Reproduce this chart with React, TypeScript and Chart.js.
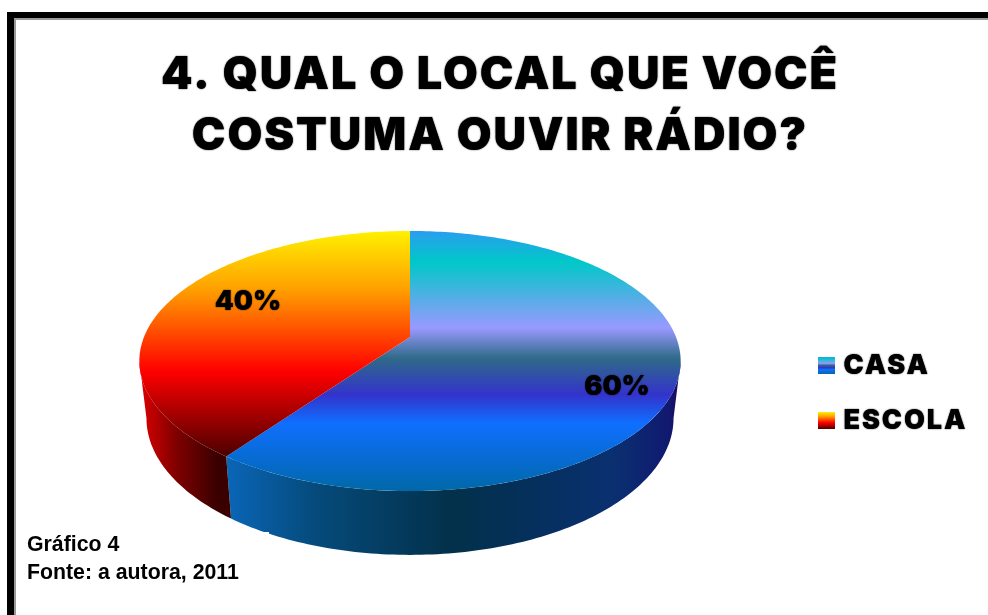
import React, { useEffect, useRef } from "react";
import { Chart, registerables } from "chart.js";

Chart.register(...registerables);

const categories = ["CASA", "ESCOLA"];
const shares = [60, 40];
const titleLines = ["4. QUAL O LOCAL QUE VOCÊ", "COSTUMA OUVIR RÁDIO?"];
const captionLines = ["Gráfico 4", "Fonte: a autora, 2011"];

const CANVAS_LEFT = 12;
const TITLE_FONT = "Inter, 'DejaVu Sans', sans-serif";

// Perspective mapping of the pie's disc on to the page (canvas pixels).
const TOP_FACE = { x: 410 - CANVAS_LEFT, y: 337, a: 125.6, w: 266 };
const BOTTOM_FACE = { x: 410 - CANVAS_LEFT, y: 393, a: 132, w: 259 };
const TILT = -0.1846;
const SILHOUETTE_ANGLE = 0.185; // where the rim is widest on the page

type Face = { x: number; y: number; a: number; w: number };

function project(face: Face, clockAngle: number, r = 1) {
  // clockAngle: Chart.js arc angle (-PI/2 is twelve o'clock)
  const c = Math.cos(clockAngle) * r;
  const s = Math.sin(clockAngle) * r;
  const d = 1 + TILT * s;
  return { x: face.x + (face.w * c) / d, y: face.y + (face.a * s) / d };
}

function stopsGradient(ctx: CanvasRenderingContext2D, x0: number, y0: number, x1: number, y1: number, stops: [number, string][]) {
  const g = ctx.createLinearGradient(x0, y0, x1, y1);
  stops.forEach(([o, c]) => g.addColorStop(o, c));
  return g;
}

const OCEAN: [number, string][] = [
  [0, "#2a9df0"],
  [0.12, "#00c8c8"],
  [0.373, "#9999ff"],
  [0.49, "#2f6a88"],
  [0.63, "#3333cc"],
  [0.74, "#0f6fff"],
  [1, "#0068a8"],
];
const FIRE: [number, string][] = [
  [0, "#fff000"],
  [0.26, "#ff9f00"],
  [0.62, "#ff0000"],
  [1, "#4a0000"],
];
const OCEAN_WALL: [number, string][] = [
  [0, "#0a66b8"],
  [0.2, "#054a7a"],
  [0.5, "#03304a"],
  [0.65, "#04305a"],
  [0.85, "#0a3070"],
  [0.97, "#101a70"],
  [1, "#1a0a60"],
];
const FIRE_WALL: [number, string][] = [
  [0, "#e00000"],
  [0.4, "#800000"],
  [0.85, "#3a0000"],
  [1, "#3a0000"],
];

const SWATCH_TOPS = [357, 412];
const SWATCH_STOPS = [OCEAN, FIRE];

function heavyText(ctx: CanvasRenderingContext2D, on: boolean) {
  ctx.shadowColor = on ? "rgba(0,0,0,0.95)" : "transparent";
  ctx.shadowBlur = on ? 1.4 : 0;
}

const piePlugin = {
  id: "perspectivePie",
  afterLayout(chart: any) {
    const legend = chart.legend;
    legend.left = 818 - CANVAS_LEFT - 28;
    legend.right = legend.left + 198;
    legend.top = 352 - 28;
    legend.bottom = 600;
  },
  beforeDraw(chart: any) {
    (chart.ctx as any).letterSpacing = "1.9px";
    heavyText(chart.ctx, true);
  },
  beforeDatasetDraw(chart: any) {
    const ctx: CanvasRenderingContext2D = chart.ctx;
    (ctx as any).letterSpacing = "0px";
    heavyText(ctx, false);
    const arcs = chart.getDatasetMeta(0).data;
    const step = Math.PI / 180;
    // side walls: only the front of the rim is visible
    arcs.forEach((arc: any, i: number) => {
      const from = Math.max(arc.startAngle, SILHOUETTE_ANGLE);
      const to = Math.min(arc.endAngle, Math.PI - SILHOUETTE_ANGLE);
      if (to <= from) return;
      ctx.beginPath();
      for (let t = from; t < to; t += step) {
        const p = project(TOP_FACE, t);
        ctx.lineTo(p.x, p.y);
      }
      const e = project(TOP_FACE, to);
      ctx.lineTo(e.x, e.y);
      for (let t = to; t > from; t -= step) {
        const p = project(BOTTOM_FACE, t);
        ctx.lineTo(p.x, p.y);
      }
      const b = project(BOTTOM_FACE, from);
      ctx.lineTo(b.x, b.y);
      ctx.closePath();
      ctx.fillStyle =
        i === 0
          ? stopsGradient(ctx, 226 - CANVAS_LEFT, 0, 681 - CANVAS_LEFT, 0, OCEAN_WALL)
          : stopsGradient(ctx, 139 - CANVAS_LEFT, 0, 231 - CANVAS_LEFT, 0, FIRE_WALL);
      ctx.fill();
    });
    // top faces
    arcs.forEach((arc: any, i: number) => {
      ctx.beginPath();
      ctx.moveTo(TOP_FACE.x, TOP_FACE.y);
      for (let t = arc.startAngle; t < arc.endAngle; t += step) {
        const p = project(TOP_FACE, t);
        ctx.lineTo(p.x, p.y);
      }
      const e = project(TOP_FACE, arc.endAngle);
      ctx.lineTo(e.x, e.y);
      ctx.closePath();
      ctx.fillStyle =
        i === 0 ? stopsGradient(ctx, 0, 231, 0, 491, OCEAN) : stopsGradient(ctx, 0, 231, 0, 457, FIRE);
      ctx.fill();
    });
    return false;
  },
  afterDatasetsDraw(chart: any) {
    const ctx: CanvasRenderingContext2D = chart.ctx;
    const spots = [
      { x: 617 - CANVAS_LEFT, y: 387 },
      { x: 248 - CANVAS_LEFT, y: 302 },
    ];
    ctx.save();
    heavyText(ctx, true);
    ctx.font = `900 27px ${TITLE_FONT}`;
    ctx.fillStyle = "#000";
    ctx.textAlign = "center";
    ctx.textBaseline = "middle";
    shares.forEach((v, i) => ctx.fillText(`${v}%`, spots[i].x, spots[i].y));
    heavyText(ctx, false);
    // full width of the legend swatches
    SWATCH_TOPS.forEach((y, i) => {
      ctx.fillStyle = stopsGradient(ctx, 0, y, 0, y + 17, SWATCH_STOPS[i]);
      ctx.fillRect(818 - CANVAS_LEFT, y, 17, 17);
    });
    ctx.restore();
  },
};

export default function App() {
  const ref = useRef<HTMLCanvasElement>(null);
  useEffect(() => {
    document.body.style.margin = "0";
    const canvas = ref.current!;
    const chart = new Chart(canvas, {
      type: "pie",
      data: {
        labels: categories,
        datasets: [{ data: shares, backgroundColor: ["#1070e8", "#ff0000"], borderWidth: 0 }],
      },
      options: {
        responsive: false,
        animation: false,
        layout: { padding: { left: 100, right: 100, top: 20, bottom: 20 } },
        plugins: {
          tooltip: { enabled: false },
          title: {
            display: true,
            text: titleLines,
            color: "#000",
            font: { family: TITLE_FONT, size: 45, weight: 900 as any, lineHeight: 1.355 },
            padding: { top: 25, bottom: 0 },
          },
          legend: {
            position: "right",
            align: "start",
            labels: {
              boxWidth: 12,
              boxHeight: 17,
              padding: 28,
              color: "#000",
              font: { family: TITLE_FONT, size: 27, weight: 900 as any },
              generateLabels: () =>
                categories.map((text, i) => ({
                  text,
                  fillStyle: "transparent",
                  strokeStyle: "transparent",
                  lineWidth: 0,
                  index: i,
                  datasetIndex: 0,
                })) as any,
            },
          },
        },
      },
      plugins: [piePlugin],
    });
    return () => chart.destroy();
  }, []);
  return (
    <div style={{ position: "relative", width: 988, height: 615, overflow: "hidden", background: "#fff" }}>
      <div style={{ position: "absolute", left: 7, top: 12, width: 981, height: 603, boxSizing: "border-box", borderLeft: "7px solid #000", borderTop: "6px solid #000" }}>
        <div style={{ width: "100%", height: "100%", boxSizing: "border-box", borderLeft: "2px solid #999", borderTop: "2px solid #999" }} />
      </div>
      <canvas ref={ref} width={976} height={615} style={{ position: "absolute", left: CANVAS_LEFT, top: 0 }} />
      <div style={{ position: "absolute", left: 22, top: 532, width: 247, height: 60, background: "#fff", fontFamily: "'Liberation Sans', Arial, sans-serif", fontWeight: 700, fontSize: 21.3, lineHeight: "28px", color: "#000", paddingLeft: 5, boxSizing: "border-box" }}>
        {captionLines.map((l) => (
          <div key={l} style={{ position: "relative", top: -2 }}>{l}</div>
        ))}
      </div>
    </div>
  );
}
